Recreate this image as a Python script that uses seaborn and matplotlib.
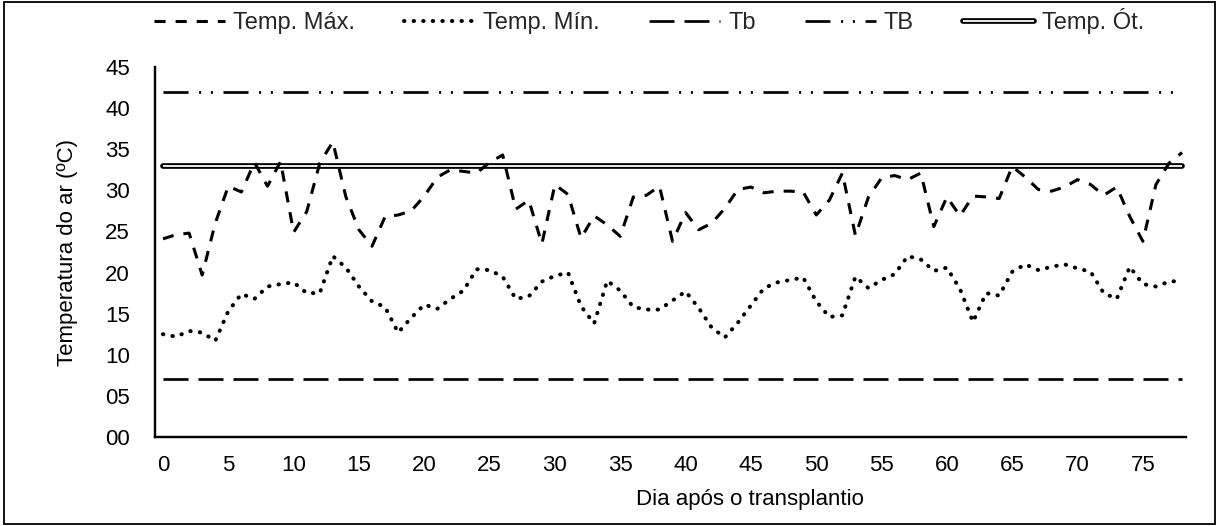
import matplotlib
matplotlib.use("Agg")
import matplotlib.pyplot as plt
import seaborn as sns
import numpy as np
import pandas as pd
from matplotlib.legend_handler import HandlerTuple
from matplotlib.patches import Rectangle

# ---------------- data ----------------
days = list(range(79))
temp_max = [24.1, 24.6, 24.8, 19.7, 26.0, 30.5, 29.8, 33.4, 30.5, 33.5,
            24.9, 27.4, 33.3, 35.9, 29.2, 25.2, 23.2, 26.8, 27.0, 27.5,
            29.3, 31.6, 32.5, 32.3, 32.1, 33.4, 34.3, 27.7, 28.8, 23.5,
            30.7, 29.5, 24.2, 26.9, 25.8, 24.4, 29.2, 29.4, 30.5, 23.8,
            27.3, 25.2, 26.0, 27.8, 30.1, 30.4, 29.7, 29.9, 29.9, 29.8,
            27.0, 28.8, 32.1, 24.5, 29.2, 31.5, 31.8, 31.3, 32.1, 25.6,
            29.2, 26.9, 29.3, 29.2, 29.0, 32.9, 31.6, 30.1, 29.9, 30.4,
            31.3, 30.7, 29.4, 30.4, 26.8, 23.8, 30.7, 33.3, 34.6]
temp_min = [12.5, 12.2, 12.9, 12.7, 11.7, 15.3, 17.4, 16.8, 18.3, 18.6,
            18.8, 17.5, 17.5, 22.0, 20.6, 18.3, 16.5, 15.8, 12.7, 14.5,
            16.1, 15.6, 16.8, 17.8, 20.4, 20.3, 19.5, 16.8, 17.1, 18.9,
            19.6, 20.0, 15.9, 13.8, 19.0, 17.8, 15.8, 15.5, 15.5, 16.6,
            17.7, 15.7, 13.3, 12.1, 13.9, 16.0, 18.1, 18.8, 19.1, 19.4,
            16.5, 14.6, 14.8, 19.5, 18.1, 19.1, 19.8, 22.0, 21.6, 20.2,
            20.6, 18.0, 14.0, 17.5, 17.2, 20.1, 21.0, 20.3, 20.7, 21.0,
            20.5, 20.1, 17.5, 16.8, 20.7, 18.6, 18.3, 18.9, 19.0]
tb_value = 7      # Tb
TB_value = 42     # TB
topt_value = 33   # Temp. Ót.
labels = ["Temp. Máx.", "Temp. Mín.", "Tb", "TB", "Temp. Ót."]
x_ticks = list(range(0, 80, 5))
y_ticks = list(range(0, 50, 5))

df = pd.DataFrame({
    "dia": days,
    "tmax": temp_max,
    "tmin": temp_min,
    "tb": [tb_value] * len(days),
    "TB": [TB_value] * len(days),
    "topt": [topt_value] * len(days),
})

# ---------------- style ----------------
sns.set_style("white")
plt.rcParams["font.family"] = ["Liberation Sans", "DejaVu Sans"]
plt.rcParams["lines.scale_dashes"] = False

W, H = 1218, 526
fig = plt.figure(figsize=(W / 100, H / 100), dpi=100)
ax = fig.add_axes([155 / W, (H - 437) / H, (1186 - 155) / W, (437 - 67) / H])

# reference lines
sns.lineplot(data=df, x="dia", y="tb", ax=ax, color="black", lw=1.95,
             linestyle=(0, (18, 7.2)), dash_capstyle="butt", label="Tb")
sns.lineplot(data=df, x="dia", y="TB", ax=ax, color="black", lw=1.95,
             linestyle=(0, (18, 7.6, 1.5, 7.0, 1.5, 7.6)),
             dash_capstyle="butt", label="TB")
sns.lineplot(data=df, x="dia", y="topt", ax=ax, color="black", lw=4.1,
             solid_capstyle="round", label="Temp. Ót.")
sns.lineplot(data=df, x="dia", y="topt", ax=ax, color="white", lw=1.3,
             solid_capstyle="butt", label="_opt_inner")
# data series
sns.lineplot(data=df, x="dia", y="tmin", ax=ax, color="black", lw=2.9,
             linestyle=(0, (0.3, 6.6)), dash_capstyle="round",
             label="Temp. Mín.")
sns.lineplot(data=df, x="dia", y="tmax", ax=ax, color="black", lw=2.2,
             linestyle=(0, (8, 7.2)), dash_capstyle="butt",
             label="Temp. Máx.")

lines = ax.get_lines()
ln_tb, ln_TB, ln_opt, ln_opt_in, ln_min, ln_max = lines[:6]
if ax.get_legend() is not None:
    ax.get_legend().remove()

ax.set_xlim(-0.61, 78.3)
ax.set_ylim(0, 45)
ax.set_xticks(x_ticks)
ax.set_xticklabels([str(t) for t in x_ticks])
ax.set_yticks(y_ticks)
ax.set_yticklabels([f"{t:02d}" for t in y_ticks])
ax.tick_params(axis="both", length=0, labelsize=16, colors="black")
ax.tick_params(axis="y", pad=18)
ax.tick_params(axis="x", pad=13)

for s in ["top", "right"]:
    ax.spines[s].set_visible(False)
for s in ["left", "bottom"]:
    ax.spines[s].set_color("black")
    ax.spines[s].set_linewidth(1.75)
ax.grid(False)

ax.set_xlabel("Dia após o transplantio", fontsize=16, color="black")
ax.set_ylabel("Temperatura do ar (ºC)", fontsize=16, color="black")
ax.xaxis.set_label_coords(0.577, -0.14)
ax.yaxis.set_label_coords(-0.075, 0.5)

leg = fig.legend(
    [ln_max, ln_min, ln_tb, ln_TB, (ln_opt, ln_opt_in)],
    labels,
    loc="center left", bbox_to_anchor=(154 / W, 1 - 21 / H),
    ncol=5, frameon=False, fontsize=17,
    handlelength=3.0, handletextpad=0.35, columnspacing=2.08,
    borderpad=0, borderaxespad=0,
    handler_map={tuple: HandlerTuple(ndivide=1, pad=0)},
)

# figure border
fig.patches.append(Rectangle((4 / W, 2 / H), (1215 - 4) / W, (524 - 2) / H,
                             transform=fig.transFigure, fill=False,
                             edgecolor="black", linewidth=1.3))

fig.savefig("out.png", dpi=100)
